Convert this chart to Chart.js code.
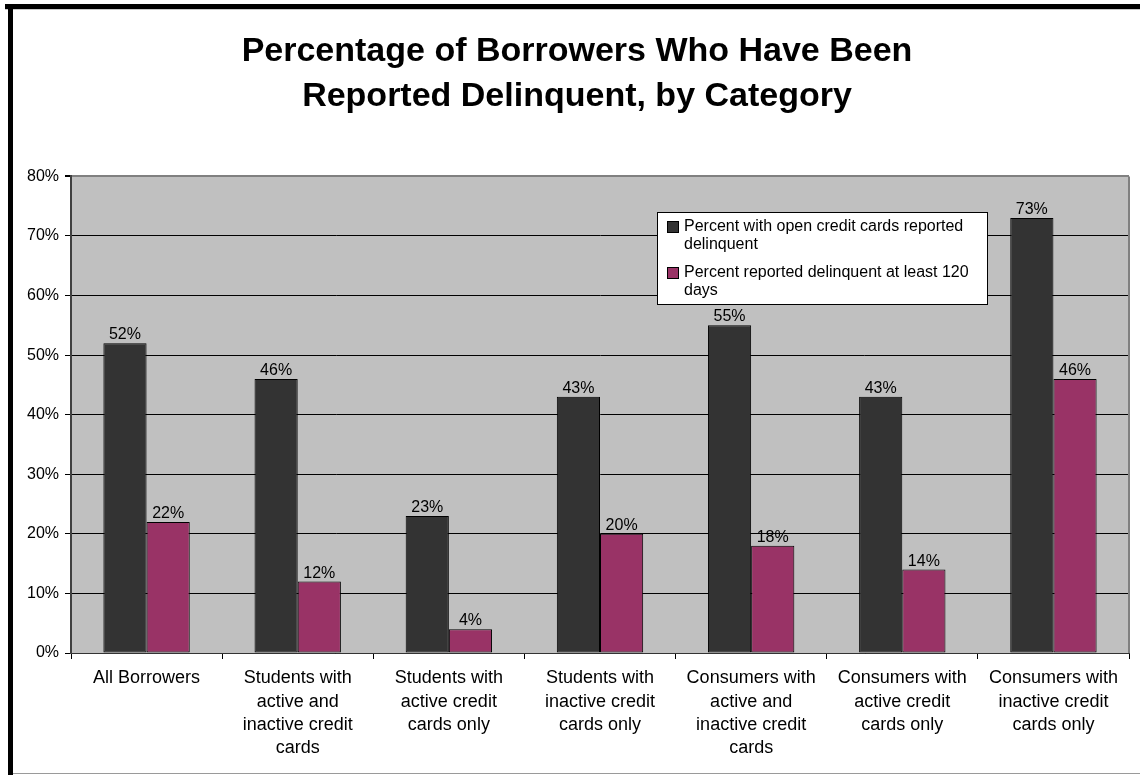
<!DOCTYPE html>
<html>
<head>
<meta charset="utf-8">
<title>Borrowers Reported Delinquent</title>
<script src="https://cdn.jsdelivr.net/npm/chart.js@4"></script>
<style>
  html, body { margin: 0; padding: 0; background: #fff; }
  #wrap { position: relative; width: 1140px; height: 775px; overflow: hidden; }
  #chart { position: absolute; left: 0; top: 0; }
  .edge { position: absolute; pointer-events: none; }
  .edge.top { left: 5px; top: 4px; width: 1135px; height: 5px; background: #000; border-bottom: 1px solid #c8c8c8; }
  .edge.left { left: 8px; top: 4px; width: 5px; height: 771px; background: #000; }
  .edge.bottom { left: 13px; top: 773px; width: 1127px; height: 1px; background: #9a9a9a; }
</style>
</head>
<body>
<div id="wrap">
  <canvas id="chart" width="1140" height="775"></canvas>
  <div class="edge top"></div>
  <div class="edge left"></div>
  <div class="edge bottom"></div>
</div>
<script>
const CATEGORIES = [
    ['All Borrowers'],
    ['Students with', 'active and', 'inactive credit', 'cards'],
    ['Students with', 'active credit', 'cards only'],
    ['Students with', 'inactive credit', 'cards only'],
    ['Consumers with', 'active and', 'inactive credit', 'cards'],
    ['Consumers with', 'active credit', 'cards only'],
    ['Consumers with', 'inactive credit', 'cards only']
];

const OPEN_CARDS_DELINQUENT = [52, 46, 23, 43, 55, 43, 73];
const DELINQUENT_120_DAYS = [22, 12, 4, 20, 18, 14, 46];

const SERIES_NAMES = [
    ['Percent with open credit cards reported', 'delinquent'],
    ['Percent reported delinquent at least 120', 'days']
];
const SERIES_COLORS = ['#333333', '#993366'];

const Y_MAX = 80;
const Y_STEP = 10;

const FONT = "'Liberation Sans', Arial, sans-serif";

// grey plot area behind bars plus the grey right-hand frame line
const plotFrame = {
    id: 'plotFrame',
    beforeDraw(chart) {
        const { ctx, chartArea: a } = chart;
        ctx.save();
        ctx.fillStyle = '#c0c0c0';
        ctx.fillRect(a.left, a.top, a.right - a.left, a.bottom - a.top);
        ctx.restore();
    },
    beforeDatasetsDraw(chart) {
        const { ctx, chartArea: a } = chart;
        ctx.save();
        ctx.strokeStyle = '#808080';
        ctx.lineWidth = 2;
        ctx.beginPath();
        ctx.moveTo(a.right, a.top);
        ctx.lineTo(a.right, a.bottom);
        ctx.stroke();
        ctx.restore();
    }
};

// percent labels above every bar
const barValues = {
    id: 'barValues',
    afterDatasetsDraw(chart) {
        const { ctx } = chart;
        ctx.save();
        ctx.font = '16px ' + FONT;
        ctx.fillStyle = '#000';
        ctx.textAlign = 'center';
        ctx.textBaseline = 'alphabetic';
        chart.data.datasets.forEach((ds, i) => {
            chart.getDatasetMeta(i).data.forEach((bar, j) => {
                ctx.fillText(ds.data[j] + '%', bar.x, bar.y - 4);
            });
        });
        ctx.restore();
    }
};

// boxed legend sitting inside the plot area
const boxLegend = {
    id: 'boxLegend',
    afterDraw(chart) {
        const { ctx } = chart;
        const x = 657, y = 212, w = 330, h = 92;
        ctx.save();
        ctx.fillStyle = '#fff';
        ctx.fillRect(x, y, w, h);
        ctx.strokeStyle = '#000';
        ctx.lineWidth = 1;
        ctx.strokeRect(x + 0.5, y + 0.5, w, h);
        ctx.font = '16px ' + FONT;
        ctx.textBaseline = 'middle';
        ctx.textAlign = 'left';
        chart.data.datasets.forEach((ds, i) => {
            const top = y + 15 + i * 46;
            ctx.fillStyle = ds.backgroundColor;
            ctx.fillRect(x + 10.5, top - 5.5, 11, 11);
            ctx.strokeRect(x + 10.5, top - 5.5, 11, 11);
            ctx.fillStyle = '#000';
            SERIES_NAMES[i].forEach((line, k) => {
                ctx.fillText(line, x + 27, top + k * 18);
            });
        });
        ctx.restore();
    }
};

const ctx = document.getElementById('chart').getContext('2d');
new Chart(ctx, {
    type: 'bar',
    data: {
        labels: CATEGORIES,
        datasets: [
            {
                label: SERIES_NAMES[0].join(' '),
                data: OPEN_CARDS_DELINQUENT,
                backgroundColor: SERIES_COLORS[0],
                borderColor: '#000',
                borderWidth: 1,
                borderSkipped: false
            },
            {
                label: SERIES_NAMES[1].join(' '),
                data: DELINQUENT_120_DAYS,
                backgroundColor: SERIES_COLORS[1],
                borderColor: '#000',
                borderWidth: 1,
                borderSkipped: false
            }
        ]
    },
    options: {
        responsive: false,
        animation: false,
        events: [],
        categoryPercentage: 2 / 3.5,
        barPercentage: 1,
        layout: { padding: { left: 25, right: 11, top: 0, bottom: 0 } },
        scales: {
            x: {
                afterFit(scale) { scale.height = 122; },
                grid: {
                    offset: true,
                    drawOnChartArea: false,
                    drawTicks: true,
                    tickLength: 6,
                    color: '#000'
                },
                border: { display: true, color: '#333', width: 1 },
                ticks: {
                    color: '#000',
                    padding: 8,
                    maxRotation: 0,
                    autoSkip: false,
                    font: { family: FONT, size: 18, lineHeight: 1.28 }
                }
            },
            y: {
                min: 0,
                max: Y_MAX,
                afterFit(scale) { scale.width = 46; },
                grid: {
                    color: (c) => (c.tick && c.tick.value === Y_MAX ? '#808080' : '#000'),
                    tickColor: '#000',
                    tickLength: 6,
                    lineWidth: (c) => (c.tick && c.tick.value === Y_MAX ? 2 : 1)
                },
                border: { display: true, color: '#404040', width: 2 },
                ticks: {
                    stepSize: Y_STEP,
                    color: '#000',
                    padding: 6,
                    font: { family: FONT, size: 16 },
                    callback: (v) => v + '%'
                }
            }
        },
        plugins: {
            legend: { display: false },
            tooltip: { enabled: false },
            title: {
                display: true,
                text: ['Percentage of Borrowers Who Have Been', 'Reported Delinquent, by Category'],
                color: '#000',
                font: { family: FONT, size: 34, weight: 'bold', lineHeight: 1.3 },
                padding: { top: 30, bottom: 58 }
            }
        }
    },
    plugins: [plotFrame, barValues, boxLegend]
});
</script>
</body>
</html>
